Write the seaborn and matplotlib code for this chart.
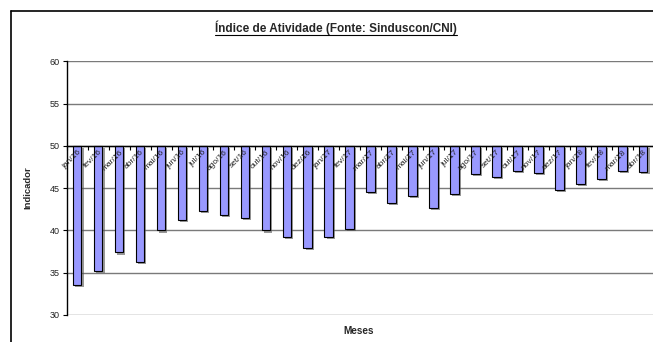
import matplotlib
matplotlib.use("Agg")
import matplotlib.pyplot as plt
import matplotlib.patheffects as pe
from matplotlib.lines import Line2D
import numpy as np
import pandas as pd
import seaborn as sns

# Monthly activity index (Sinduscon/CNI), baseline 50
meses = ["jan/16", "fev/16", "mar/16", "abr/16", "mai/16", "jun/16", "jul/16",
         "ago/16", "set/16", "out/16", "nov/16", "dez/16",
         "jan/17", "fev/17", "mar/17", "abr/17", "mai/17", "jun/17", "jul/17",
         "ago/17", "set/17", "out/17", "nov/17", "dez/17",
         "jan/18", "fev/18", "mar/18", "abr/18"]
indicador = [33.5, 35.2, 37.4, 36.3, 40.0, 41.2, 42.3, 41.8, 41.5, 40.0,
             39.2, 37.9, 39.2, 40.2, 44.5, 43.2, 44.1, 42.7, 44.3, 46.7,
             46.3, 47.0, 46.85, 44.8, 45.5, 46.1, 47.05, 46.9]
baseline = 50
y_ticks = [30, 35, 40, 45, 50, 55, 60]

df = pd.DataFrame({"mes": meses, "valor": indicador})
df["desvio"] = df["valor"] - baseline

sns.set_theme(style="white")
plt.rcParams["font.family"] = ["Liberation Sans", "DejaVu Sans"]

fig = plt.figure(figsize=(6.53, 3.42), dpi=100)
ax = fig.add_axes([66.7 / 653, 1 - 315 / 342, 1.0 - 66.7 / 653 + 0.001, (315 - 61.3) / 342])

sns.barplot(data=df, x="mes", y="desvio", bottom=baseline, color="#9999FF",
            saturation=1, width=0.41, edgecolor="black", linewidth=0.8,
            ax=ax, zorder=3)
for bar in ax.patches:
    bar.set_path_effects([pe.SimplePatchShadow(offset=(1.5, -1.5),
                                               shadow_rgbFace="#555555", alpha=0.6),
                          pe.Normal()])

n = len(meses)
ax.set_xlim(-0.5, n - 0.5)
ax.set_ylim(30, 60)
ax.set_yticks(y_ticks)
ax.set_yticklabels([str(v) for v in y_ticks], fontsize=6.5, color="#222222")
for v in y_ticks:
    ax.axhline(v, color="#7a7a7a", lw=1.0, zorder=1)

# category axis crosses at the baseline, drawn over the bars
ax.spines["bottom"].set_position(("data", baseline))
ax.spines["bottom"].set_color("black")
ax.spines["bottom"].set_linewidth(1.0)
ax.spines["bottom"].set_zorder(4)
ax.spines["left"].set_color("black")
ax.spines["left"].set_linewidth(1.0)
ax.spines["top"].set_visible(False)
ax.spines["right"].set_visible(False)
ax.xaxis.set_zorder(5)

ax.set_xticks(np.arange(n))
ax.set_xticklabels(meses, rotation=45, ha="right", rotation_mode="anchor",
                   fontsize=6, color="#222222")
ax.set_xticks(np.arange(n + 1) - 0.5, minor=True)
ax.tick_params(axis="x", which="major", length=0, pad=2)
ax.tick_params(axis="x", which="minor", length=3, width=0.8, color="black",
               direction="out", bottom=True)
ax.tick_params(axis="y", which="major", length=3, width=0.8, color="black",
               direction="out", left=True, pad=2)

ax.set_xlabel("")
ax.set_ylabel("")
fig.text(28 / 653, 1 - 188 / 342, "Indicador", rotation=90, ha="center",
         va="center", fontsize=6.8, fontweight="bold")
fig.text(359 / 653, 1 - 331 / 342, "Meses", ha="center", va="center",
         fontsize=7.2, fontweight="bold")
title = fig.text(336 / 653, 1 - 28 / 342, "Índice de Atividade (Fonte: Sinduscon/CNI)",
                 ha="center", va="center", fontsize=8.5, fontweight="bold")
fig.canvas.draw()
bb = title.get_window_extent().transformed(fig.transFigure.inverted())
fig.add_artist(Line2D([bb.x0, bb.x1], [bb.y0 + 0.002, bb.y0 + 0.002],
                      transform=fig.transFigure, color="black", lw=0.8))

# outer chart frame
fig.add_artist(Line2D([11 / 653, 11 / 653], [-0.01, 1 - 11 / 342],
                      transform=fig.transFigure, color="black", lw=1.2))
fig.add_artist(Line2D([11 / 653, 1.01], [1 - 11 / 342, 1 - 11 / 342],
                      transform=fig.transFigure, color="black", lw=1.2))

fig.savefig("out.png", dpi=100)
